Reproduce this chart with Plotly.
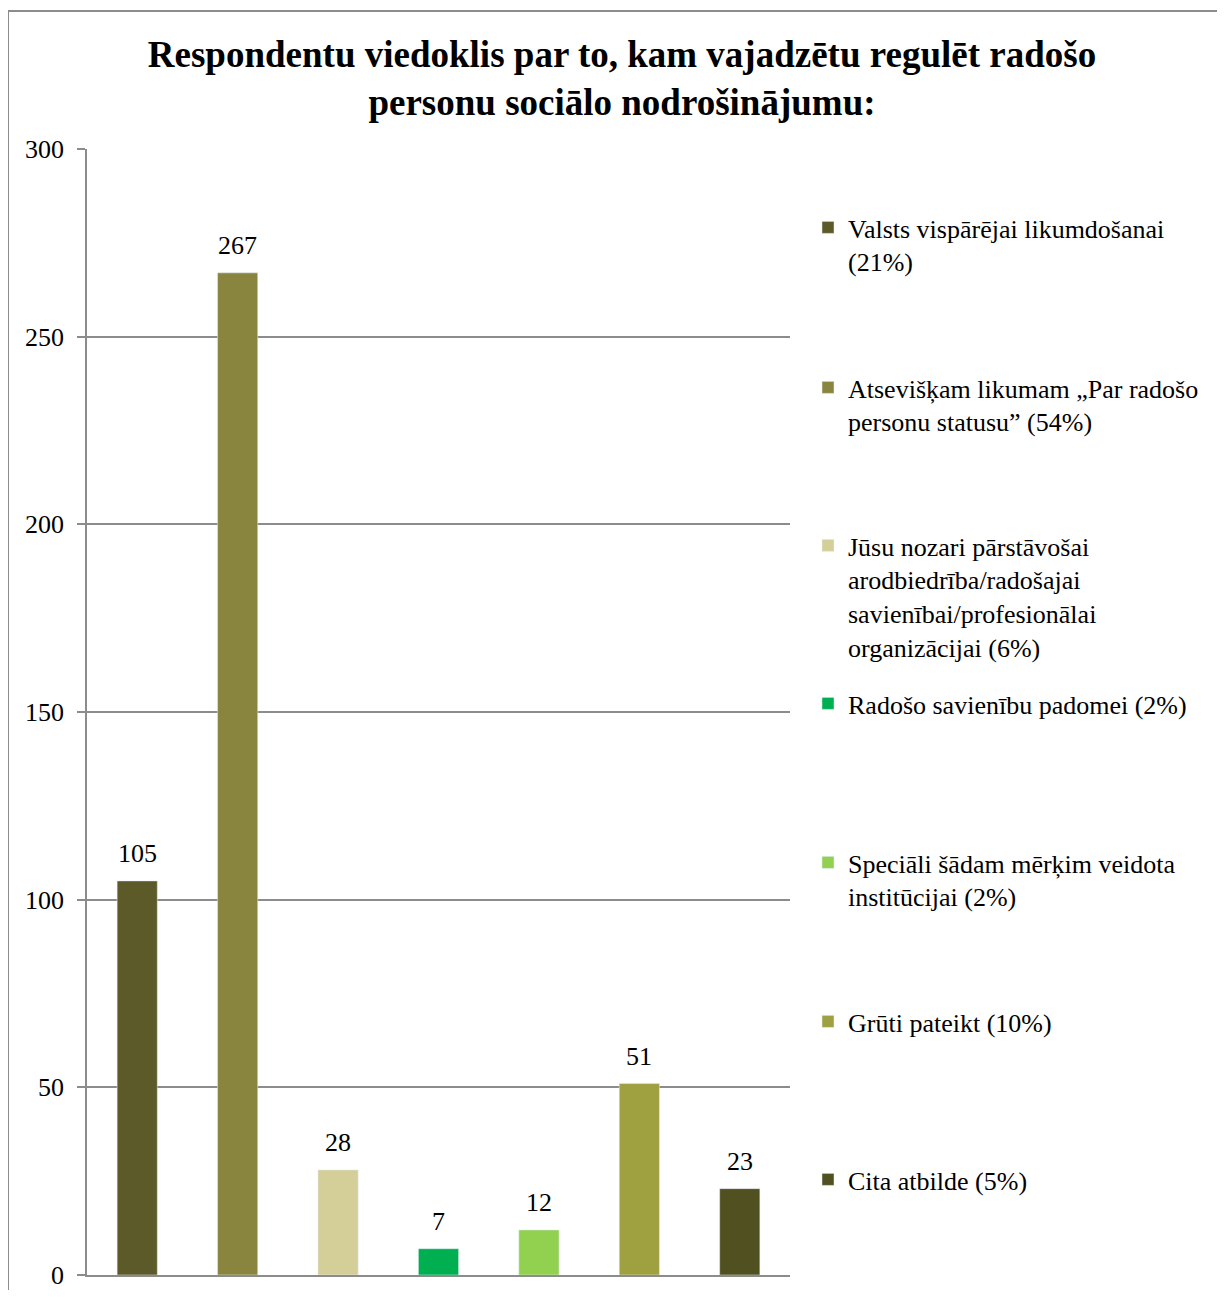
import plotly.graph_objects as go

categories = [
    'Valsts vispārējai likumdošanai<br>(21%)',
    'Atsevišķam likumam „Par radošo<br>personu statusu” (54%)',
    'Jūsu nozari pārstāvošai<br>arodbiedrība/radošajai<br>savienībai/profesionālai<br>organizācijai (6%)',
    'Radošo savienību padomei (2%)',
    'Speciāli šādam mērķim veidota<br>institūcijai (2%)',
    'Grūti pateikt (10%)',
    'Cita atbilde (5%)',
]
values = [105, 267, 28, 7, 12, 51, 23]
colors = ['#5D5A2A', '#8A853E', '#D4CF98', '#00B050', '#92D050', '#9FA040', '#505021']

# page has an 8px body margin, so work in page pixels and shift
OFF = 8
W, H = 1225 - 2 * OFF, 1298 - 2 * OFF
L, R, T, B = 87 - OFF, 790 - OFF, 149 - OFF, 1275 - OFF
FONT = 'Liberation Serif'
GRAY = '#8C8C8C'

# first-line centres of legend entries (page px)
legend_px = [230, 390, 548, 706, 865, 1024, 1182]


def py(p):
    return (B - (p - OFF)) / (B - T)


def px(p):
    return ((p - OFF) - L) / (R - L)


fig = go.Figure()
for i, (c, v, col) in enumerate(zip(categories, values, colors)):
    lg = 'legend' if i == 0 else f'legend{i + 1}'
    fig.add_trace(go.Bar(
        x=[i], y=[v], name=c, marker_color=col, width=0.4,
        legend=lg, showlegend=True,
    ))
    fig.add_annotation(
        x=i, y=v, text=str(v), showarrow=False,
        yanchor='middle', yshift=27,
        font=dict(family=FONT, size=26, color='black'),
    )

layout = dict(
    width=W, height=H,
    margin=dict(l=L, r=W - R, t=T, b=H - B, autoexpand=False),
    paper_bgcolor='white', plot_bgcolor='white',
    barmode='overlay', showlegend=True,
    font=dict(family=FONT, size=26, color='black'),
    title=dict(
        text='<b>Respondentu viedoklis par to, kam vajadzētu regulēt radošo<br>personu sociālo nodrošinājumu:</b>',
        x=(622 - OFF) / W, xanchor='center', y=1 - 59 / H, yanchor='top',
        font=dict(family=FONT, size=37, color='black'),
    ),
    xaxis=dict(
        range=[-0.5, 6.5], showticklabels=False, showgrid=False,
        showline=True, linecolor=GRAY, linewidth=2, zeroline=False,
        fixedrange=True, automargin=False,
    ),
    yaxis=dict(
        range=[0, 300], dtick=50, showgrid=True, gridcolor=GRAY, gridwidth=1.5,
        showline=True, linecolor=GRAY, linewidth=1.5, zeroline=False,
        ticks='outside', ticklen=8, tickcolor=GRAY, tickwidth=1.5,
        tickfont=dict(family=FONT, size=26), ticklabelstandoff=8,
        ticklabeloverflow='allow', automargin=False,
        fixedrange=True,
    ),
    shapes=[dict(
        type='rect', xref='paper', yref='paper',
        x0=px(8), x1=px(1240), y0=py(1320), y1=py(11),
        line=dict(color=GRAY, width=2), layer='below',
    )],
)
for i, yp in enumerate(legend_px):
    lg = 'legend' if i == 0 else f'legend{i + 1}'
    layout[lg] = dict(
        x=px(808), xanchor='left', y=py(yp - 26), yanchor='top',
        valign='top', bgcolor='rgba(0,0,0,0)',
        font=dict(family=FONT, size=26, color='black'),
        itemclick=False, itemdoubleclick=False,
    )
fig.update_layout(**layout)

fig.write_html('out.html')
